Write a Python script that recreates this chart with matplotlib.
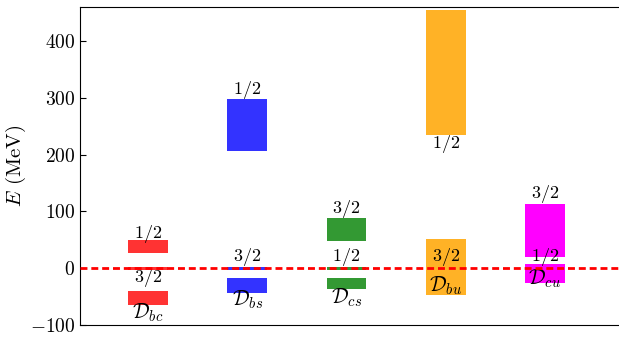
import matplotlib
matplotlib.use('Agg')
import matplotlib.pyplot as plt
from matplotlib.ticker import FuncFormatter

plt.rcParams['mathtext.fontset'] = 'cm'
plt.rcParams['font.family'] = 'serif'
plt.rcParams['font.serif'] = ['cmr10', 'DejaVu Serif']

# Data (MeV)
mesons = ['bc', 'bs', 'cs', 'bu', 'cu']
colors = ['red', 'blue', 'green', 'orange', 'magenta']
alphas = [0.8, 0.8, 0.8, 0.85, 1.0]
upper_lo = [26, 207, 48, 234, 20]
upper_hi = [49, 298, 88, 455, 113]
upper_lab = ['1/2', '1/2', '3/2', '1/2', '3/2']
mid_lo = [-2.5, -2.5, -2.5, None, None]
mid_hi = [2.5, 2.5, 2.5, None, None]
lower_lo = [-65, -44, -37, -48, -26]
lower_hi = [-40, -18, -18, 51, 7]
second_lab = ['3/2', '3/2', '1/2', '3/2', '1/2']

# label placement (layout)
upper_lab_y = [61, 314, 105, 218, 130]
second_lab_y = [-17, 19, 19, 19, 19]
name_y = [-78, -56, -52, -30, -19]

fig = plt.figure(figsize=(6.19, 3.37), dpi=100)
ax = fig.add_axes([0.1292, 0.0356, 0.8708, 0.9436])

w = 0.4
for i, m in enumerate(mesons):
    x = i + 1
    c, a = colors[i], alphas[i]
    ax.bar(x, upper_hi[i] - upper_lo[i], bottom=upper_lo[i], width=w, color=c, alpha=a, lw=0)
    if mid_lo[i] is not None:
        ax.bar(x, mid_hi[i] - mid_lo[i], bottom=mid_lo[i], width=w, color=c, alpha=a, lw=0)
    ax.bar(x, lower_hi[i] - lower_lo[i], bottom=lower_lo[i], width=w, color=c, alpha=a, lw=0)
    ax.text(x, upper_lab_y[i], r'$%s$' % upper_lab[i], ha='center', va='center', fontsize=13)
    ax.text(x, second_lab_y[i], r'$%s$' % second_lab[i], ha='center', va='center', fontsize=13)
    ax.text(x, name_y[i], r'$\mathcal{D}_{%s}$' % m, ha='center', va='center', fontsize=15)

ax.axhline(0, color='red', lw=2, dashes=(2.5, 1.4), zorder=5)

ax.set_xlim(0.315, 5.746)
ax.set_ylim(-100, 460)
ax.set_xticks([])
ax.set_yticks([-100, 0, 100, 200, 300, 400])
ax.yaxis.set_major_formatter(FuncFormatter(lambda v, p: r'$%d$' % v))
ax.tick_params(axis='y', direction='in', length=4, labelsize=14)
ax.spines['right'].set_visible(False)
ax.set_ylabel(r'$E$ (MeV)', fontsize=15)
ax.yaxis.set_label_coords(-0.097, 0.5)

plt.savefig('out.png', dpi=100)
